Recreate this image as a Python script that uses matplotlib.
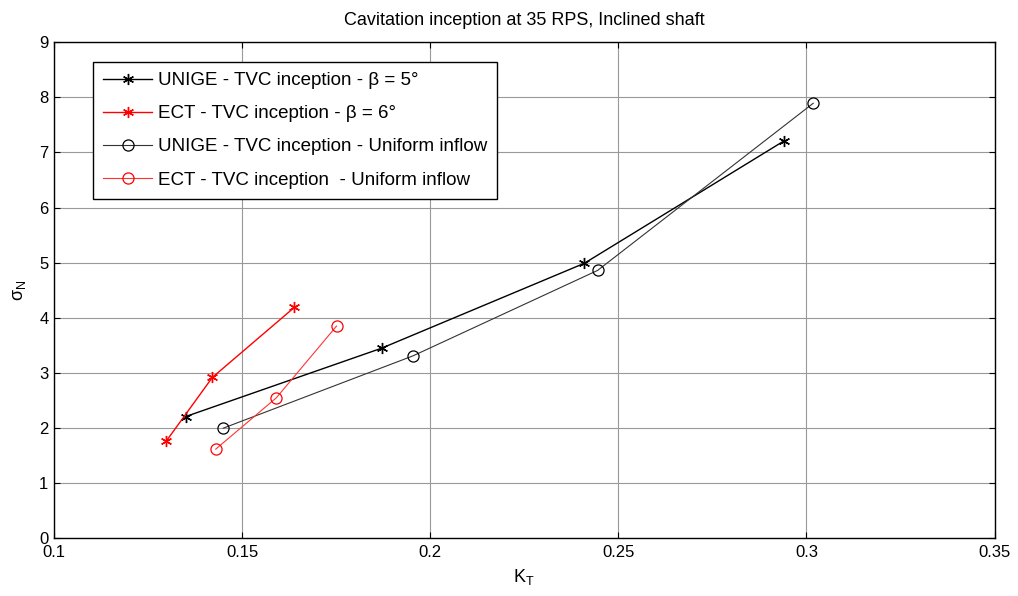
import matplotlib
matplotlib.use("Agg")
import matplotlib.pyplot as plt
from matplotlib.ticker import MultipleLocator

unige_b5_kt = [0.135, 0.1871, 0.241, 0.2941]
unige_b5_sig = [2.21, 3.45, 4.99, 7.21]
ect_b6_kt = [0.1299, 0.1421, 0.1639]
ect_b6_sig = [1.77, 2.92, 4.19]
unige_uni_kt = [0.145, 0.1954, 0.2445, 0.3018]
unige_uni_sig = [2.00, 3.31, 4.86, 7.89]
ect_uni_kt = [0.143, 0.1591, 0.1751]
ect_uni_sig = [1.62, 2.55, 3.85]

plt.rcParams['font.family'] = ['Liberation Sans', 'DejaVu Sans']
plt.rcParams['mathtext.fontset'] = 'custom'
plt.rcParams['mathtext.rm'] = 'Liberation Sans'

fig = plt.figure(figsize=(10.18, 5.96), dpi=100)
ax = fig.add_axes([0.053, 0.0965, 0.924, 0.833])

ax.plot(unige_b5_kt, unige_b5_sig, color='black', lw=1.0, marker=(6, 2, 0), ms=8, mew=1.0,
        label='UNIGE - TVC inception - β = 5°')
ax.plot(ect_b6_kt, ect_b6_sig, color='red', lw=1.0, marker=(6, 2, 0), ms=8, mew=1.0,
        label='ECT - TVC inception - β = 6°')
ax.plot(unige_uni_kt, unige_uni_sig, color='#333333', lw=0.8, marker='o', ms=8, mfc='none',
        mec='black', mew=0.9, label='UNIGE - TVC inception - Uniform inflow')
ax.plot(ect_uni_kt, ect_uni_sig, color='#ff3333', lw=0.8, marker='o', ms=8, mfc='none',
        mec='red', mew=0.9, label='ECT - TVC inception  - Uniform inflow')

ax.set_xlim(0.1, 0.35)
ax.set_ylim(0, 9)
ax.yaxis.set_major_locator(MultipleLocator(1))
ax.set_xticks([0.1, 0.15, 0.2, 0.25, 0.3, 0.35])
ax.set_xticklabels(['0.1', '0.15', '0.2', '0.25', '0.3', '0.35'])
ax.grid(True, color='#999999', lw=0.8)
ax.set_axisbelow(True)
ax.tick_params(direction='in', length=4, labelsize=12, top=True, right=True)
ax.tick_params(axis='x', pad=5)
ax.tick_params(axis='y', pad=4)
for s in ax.spines.values():
    s.set_linewidth(1.0)

ax.set_title('Cavitation inception at 35 RPS, Inclined shaft', fontsize=13, pad=12)
ax.set_xlabel(r'K$_\mathregular{T}$', fontsize=13, labelpad=5)
ax.set_ylabel(r'$\mathregular{σ_N}$', fontsize=13, labelpad=8)

leg = ax.legend(loc='upper left', bbox_to_anchor=(0.0414, 0.96), fontsize=13.5, frameon=True,
                fancybox=False, edgecolor='black', framealpha=1, borderpad=0.55,
                labelspacing=0.85, handlelength=2.6, handletextpad=0.3, borderaxespad=0)
leg.get_frame().set_linewidth(1.0)

fig.savefig('out.png', dpi=100)
